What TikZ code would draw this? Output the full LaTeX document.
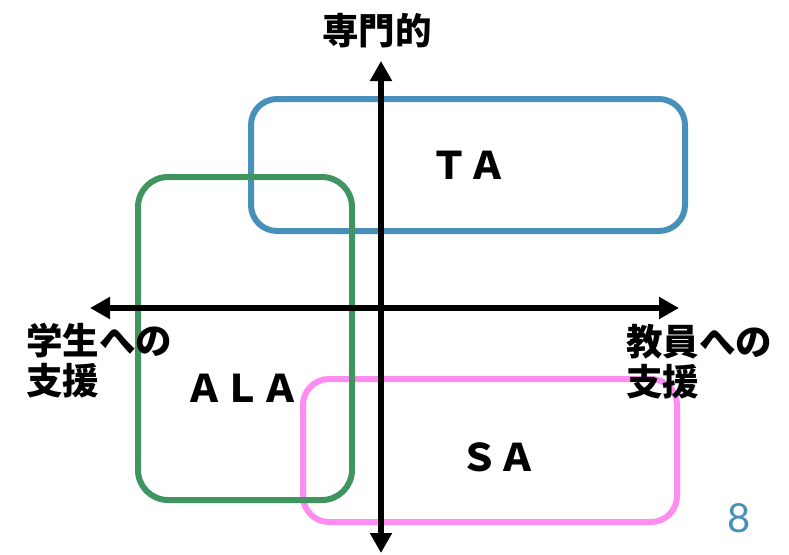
\documentclass[tikz,border=0pt]{standalone}
\usepackage{fontspec}
\newfontfamily\cjk{Noto Sans CJK JP}
\newfontfamily\numfont{Lato}
\usetikzlibrary{arrows.meta}
\definecolor{tablue}{RGB}{72,144,186}
\definecolor{alagreen}{RGB}{64,148,96}
\definecolor{sapink}{RGB}{255,140,240}
\definecolor{pagenum}{RGB}{72,144,186}
\tikzset{
  region/.style={draw, line width=6pt, rounded corners=26pt, inner sep=0pt, outer sep=0pt},
  axis/.style={line width=6pt, {Triangle[length=20pt,width=21pt]}-{Triangle[length=20pt,width=21pt]}},
  lbl/.style={font=\cjk\bfseries\fontsize{36.5}{40}\selectfont, inner sep=0pt},
  boxlbl/.style={font=\cjk\bfseries\fontsize{38}{40}\selectfont, inner sep=0pt}
}
\begin{document}
\begin{tikzpicture}[x=1pt,y=-1pt]
\useasboundingbox (0,0) rectangle (789,554);
% regions
\node[region, draw=tablue, minimum width=434pt, minimum height=132pt, boxlbl] (ta) at (468,165) {ＴＡ};
\node[region, draw=sapink, minimum width=374pt, minimum height=143pt] (sa) at (490,450.5) {};
\node[region, draw=alagreen, minimum width=214pt, minimum height=323pt, rounded corners=30pt] (ala) at (245,338.5) {};
\node[boxlbl] (alatext) at (242,388) {ＡＬＡ};
\node[boxlbl] (satext) at (498,457) {ＳＡ};
% axes
\coordinate (left) at (90,308);
\coordinate (right) at (679,308);
\coordinate (top) at (381,61);
\coordinate (bottom) at (381,553);
\draw[axis] (left) -- (right);
\draw[axis] (bottom) -- (top);
% labels
\node[lbl] (spec) at (377,31) {専門的};
\node[lbl, anchor=west, align=left] (student) at (26,361) {学生への\\支援};
\node[lbl, anchor=west, align=left] (teacher) at (626,362) {教員への\\支援};
\node[font=\numfont\fontsize{40}{40}\selectfont, text=pagenum, inner sep=0pt] (page) at (739,518) {8};
\end{tikzpicture}
\end{document}
